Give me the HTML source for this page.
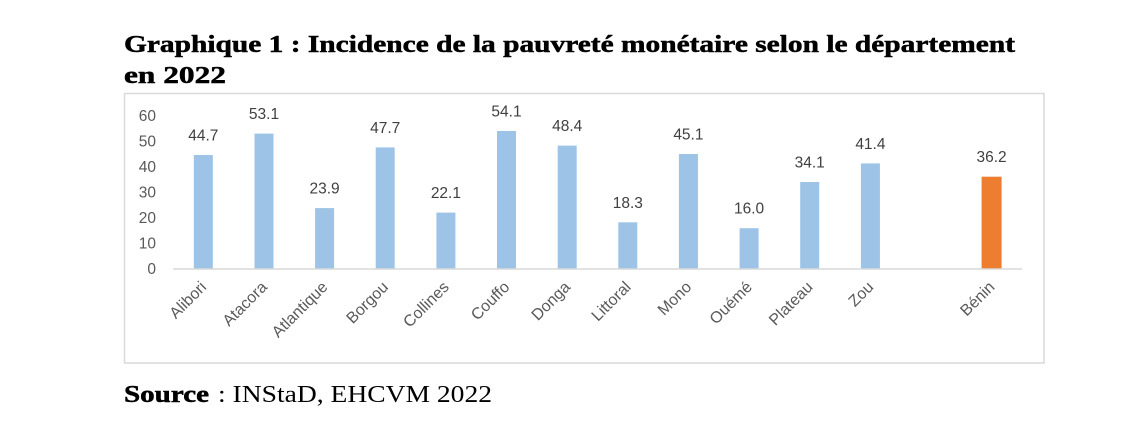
<!DOCTYPE html>
<html><head><meta charset="utf-8"><style>
html,body{margin:0;padding:0;background:#fff;}
svg{display:block;}
</style></head><body>
<svg width="1136" height="435" viewBox="0 0 1136 435" xmlns="http://www.w3.org/2000/svg">
<rect width="1136" height="435" fill="#fff"/>
<g font-family="'Liberation Serif', serif" font-weight="bold" font-size="24.5" fill="#000" stroke="#000" stroke-width="0.5">
<text x="124" y="52" textLength="891" lengthAdjust="spacingAndGlyphs">Graphique 1 : Incidence de la pauvreté monétaire selon le département</text>
<text x="124" y="83" textLength="102" lengthAdjust="spacingAndGlyphs">en 2022</text>
</g>
<rect x="124.5" y="93.5" width="919.5" height="269.5" fill="#fff" stroke="#d9d9d9" stroke-width="1.5"/>
<g font-family="'Liberation Sans', sans-serif" font-size="15.5" fill="#595959" text-anchor="end">
<text x="156" y="121">60</text>
<text x="156" y="146.5">50</text>
<text x="156" y="172">40</text>
<text x="156" y="197.5">30</text>
<text x="156" y="223">20</text>
<text x="156" y="248.5">10</text>
<text x="156" y="274">0</text>
</g>
<g fill="#9dc3e6">
<rect x="193.8" y="155.0" width="19" height="114"/>
<rect x="254.5" y="133.6" width="19" height="135.4"/>
<rect x="315.1" y="208.1" width="19" height="60.9"/>
<rect x="375.7" y="147.4" width="19" height="121.6"/>
<rect x="436.4" y="212.6" width="19" height="56.4"/>
<rect x="497.0" y="131.0" width="19" height="138"/>
<rect x="557.7" y="145.6" width="19" height="123.4"/>
<rect x="618.3" y="222.3" width="19" height="46.7"/>
<rect x="678.9" y="154.0" width="19" height="115"/>
<rect x="739.6" y="228.2" width="19" height="40.8"/>
<rect x="800.2" y="182.0" width="19" height="87"/>
<rect x="860.9" y="163.4" width="19" height="105.6"/>
</g>
<rect x="981.6" y="176.7" width="20" height="92.3" fill="#ed7d31"/>
<line x1="173" y1="269" x2="1022" y2="269" stroke="#d9d9d9" stroke-width="1.5"/>
<g font-family="'Liberation Sans', sans-serif" font-size="15.5" fill="#404040" text-anchor="middle">
<text x="203.3" y="140.5">44.7</text>
<text x="264.0" y="119.1">53.1</text>
<text x="324.6" y="193.6">23.9</text>
<text x="385.2" y="132.9">47.7</text>
<text x="445.9" y="198.1">22.1</text>
<text x="506.5" y="116.5">54.1</text>
<text x="567.2" y="131.1">48.4</text>
<text x="627.8" y="207.8">18.3</text>
<text x="688.4" y="139.5">45.1</text>
<text x="749.1" y="213.7">16.0</text>
<text x="809.7" y="167.5">34.1</text>
<text x="870.4" y="148.9">41.4</text>
<text x="991.6" y="162.2">36.2</text>
</g>
<g font-family="'Liberation Sans', sans-serif" font-size="16" fill="#595959" text-anchor="end">
<text transform="translate(207.3,288) rotate(-45)">Alibori</text>
<text transform="translate(268.0,288) rotate(-45)">Atacora</text>
<text transform="translate(328.6,288) rotate(-45)">Atlantique</text>
<text transform="translate(389.2,288) rotate(-45)">Borgou</text>
<text transform="translate(449.9,288) rotate(-45)">Collines</text>
<text transform="translate(510.5,288) rotate(-45)">Couffo</text>
<text transform="translate(571.2,288) rotate(-45)">Donga</text>
<text transform="translate(631.8,288) rotate(-45)">Littoral</text>
<text transform="translate(692.4,288) rotate(-45)">Mono</text>
<text transform="translate(753.1,288) rotate(-45)">Ouémé</text>
<text transform="translate(813.7,288) rotate(-45)">Plateau</text>
<text transform="translate(874.4,288) rotate(-45)">Zou</text>
<text transform="translate(995.6,288) rotate(-45)">Bénin</text>
</g>
<g font-family="'Liberation Serif', serif" font-size="24" fill="#000">
<text x="124" y="402" font-weight="bold" stroke="#000" stroke-width="0.5" textLength="85" lengthAdjust="spacingAndGlyphs">Source</text>
<text x="218" y="402" textLength="274" lengthAdjust="spacingAndGlyphs">: INStaD, EHCVM 2022</text>
</g>
</svg>
</body></html>
